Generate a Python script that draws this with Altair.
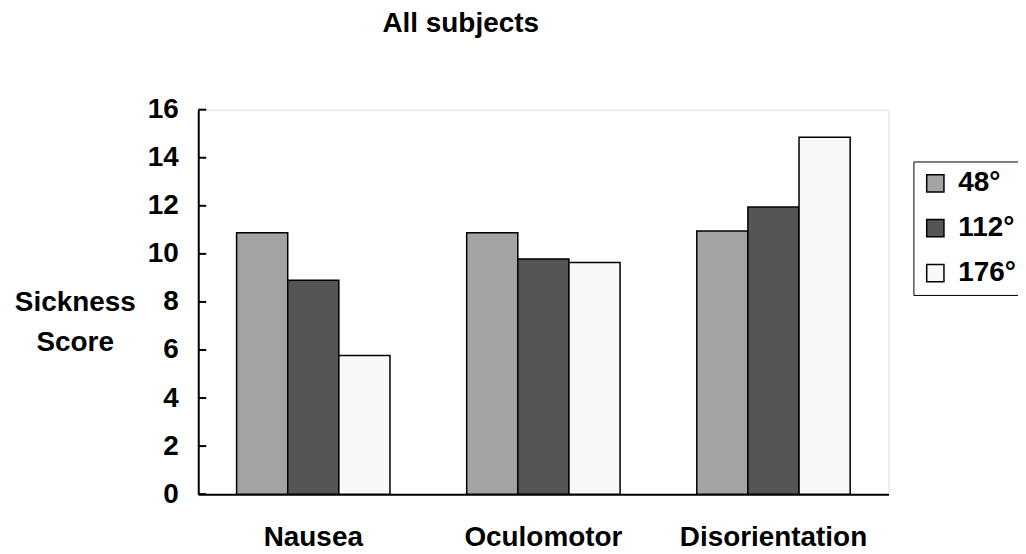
import altair as alt
import pandas as pd

categories = ["Nausea", "Oculomotor", "Disorientation"]
series = ["48°", "112°", "176°"]
values_48 = [10.88, 10.88, 10.95]
values_112 = [8.90, 9.79, 11.95]
values_176 = [5.77, 9.64, 14.85]
y_ticks = [0, 2, 4, 6, 8, 10, 12, 14, 16]
colors = ["#a3a3a3", "#555555", "#f8f8f8"]

rows = []
for s, vals in zip(series, [values_48, values_112, values_176]):
    for c, v in zip(categories, vals):
        rows.append({"cat": c, "series": s, "value": v})
df = pd.DataFrame(rows)
tick_df = pd.DataFrame({"t": y_ticks})

FONT = "Liberation Sans"
FS = 28

bars = alt.Chart(df).mark_bar(stroke="black", strokeWidth=1.5).encode(
    x=alt.X("cat:N", sort=categories,
            scale=alt.Scale(paddingInner=1/3, paddingOuter=1/6),
            axis=alt.Axis(title=None, labelAngle=0, ticks=False, labelPadding=30,
                          labelLimit=0,
                          labelFont=FONT, labelFontSize=FS, labelFontWeight="bold",
                          labelColor="black", domainColor="black", domainWidth=2)),
    xOffset=alt.XOffset("series:N", sort=series,
                        scale=alt.Scale(paddingInner=0, paddingOuter=0)),
    y=alt.Y("value:Q", scale=alt.Scale(domain=[0, 16], nice=False),
            axis=alt.Axis(values=y_ticks, ticks=False, grid=False, labelPadding=20,
                          labelFont=FONT, labelFontSize=FS, labelFontWeight="bold",
                          labelColor="black", domainColor="black", domainWidth=2,
                          title=["Sickness", "Score"], titleAngle=0, titleAlign="center",
                          titleBaseline="middle", titleX=-124, titleY=194,
                          titleLineHeight=40, titleFont=FONT, titleFontSize=FS,
                          titleFontWeight="bold", titleColor="black")),
    color=alt.Color("series:N", sort=series,
                    scale=alt.Scale(domain=series, range=colors),
                    legend=alt.Legend(title=None, orient="none", legendX=718, legendY=52,
                                      symbolType="square", symbolSize=300,
                                      symbolStrokeColor="black", symbolStrokeWidth=1.5,
                                      symbolOpacity=1,
                                      labelFont=FONT, labelFontSize=FS, labelFontWeight="bold",
                                      labelColor="black", labelOffset=9,
                                      rowPadding=17, padding=8,
                                      strokeColor="black", fillColor="white")),
)

ticks = alt.Chart(tick_df).mark_rule(color="black", strokeWidth=2).encode(
    y=alt.Y("t:Q"),
    x=alt.value(0),
    x2=alt.value(8),
)

chart = alt.layer(bars, ticks).properties(
    width=693,
    height=386,
    autosize=alt.AutoSizeParams(type="none"),
    padding={"left": 191, "top": 101, "right": 130, "bottom": 62},
    title=alt.TitleParams(text="All subjects", anchor="middle", dx=-83, offset=58,
                          font=FONT, fontSize=FS, fontWeight="bold", color="black"),
).configure_view(stroke="#8c8c8c", strokeWidth=2).configure(background="white")

chart.save("out.html", embed_options={"renderer": "svg", "actions": False})
